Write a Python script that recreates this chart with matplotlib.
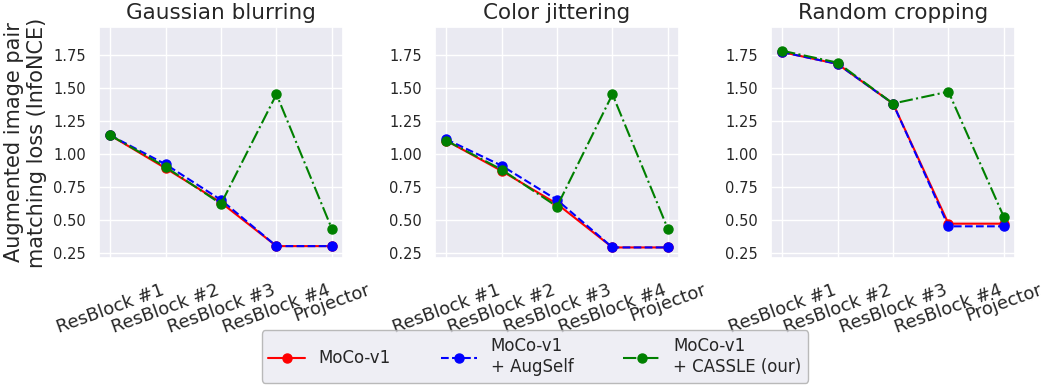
import matplotlib
matplotlib.use("Agg")
import matplotlib.pyplot as plt
import seaborn as sns

sns.set_theme(style="darkgrid")

layers = ["ResBlock #1", "ResBlock #2", "ResBlock #3", "ResBlock #4", "Projector"]
titles = ["Gaussian blurring", "Color jittering", "Random cropping"]

moco = [
    [1.14, 0.89, 0.63, 0.30, 0.30],
    [1.10, 0.87, 0.62, 0.29, 0.29],
    [1.77, 1.68, 1.38, 0.47, 0.47],
]
augself = [
    [1.14, 0.92, 0.65, 0.30, 0.30],
    [1.11, 0.91, 0.65, 0.29, 0.29],
    [1.77, 1.68, 1.38, 0.45, 0.45],
]
cassle = [
    [1.14, 0.90, 0.62, 1.45, 0.43],
    [1.10, 0.88, 0.60, 1.45, 0.43],
    [1.78, 1.69, 1.38, 1.47, 0.52],
]

fig = plt.figure(figsize=(10.43, 3.87), dpi=100)
lefts = [99, 435, 771]
width = 244
for i in range(3):
    ax = fig.add_axes([lefts[i] / 1043, 1 - 258 / 387, width / 1043, (258 - 27) / 387])
    x = range(len(layers))
    ax.plot(x, moco[i], color="red", linestyle="-", marker="o", markersize=6.5, label="MoCo-v1")
    ax.plot(x, augself[i], color="blue", linestyle="--", marker="o", markersize=6.5,
            label="MoCo-v1\n+ AugSelf")
    ax.plot(x, cassle[i], color="green", linestyle="-.", marker="o", markersize=6.5,
            label="MoCo-v1\n+ CASSLE (our)")
    ax.set_ylim(0.21, 1.96)
    ax.set_xlim(-0.2, 4.2)
    ax.set_yticks([0.25, 0.5, 0.75, 1.0, 1.25, 1.5, 1.75])
    ax.set_xticks(list(x))
    ax.set_xticklabels(layers, rotation=20, ha="center", fontsize=13)
    ax.tick_params(axis="x", pad=10.5)
    ax.tick_params(axis="y", labelsize=10.5)
    ax.set_title(titles[i], fontsize=15.5)
    if i == 0:
        ax.set_ylabel("Augmented image pair\nmatching loss (InfoNCE)", fontsize=15)
        handles, labels = ax.get_legend_handles_labels()

leg = fig.legend(handles, labels, loc="lower center", ncol=3, fontsize=12,
                 bbox_to_anchor=(0.513, -0.01), frameon=True, columnspacing=3,
                 handlelength=2.2)
leg.get_frame().set_edgecolor("#aaaaaa")
leg.get_frame().set_facecolor("#eaeaf2")

fig.savefig("out.png", dpi=100)
